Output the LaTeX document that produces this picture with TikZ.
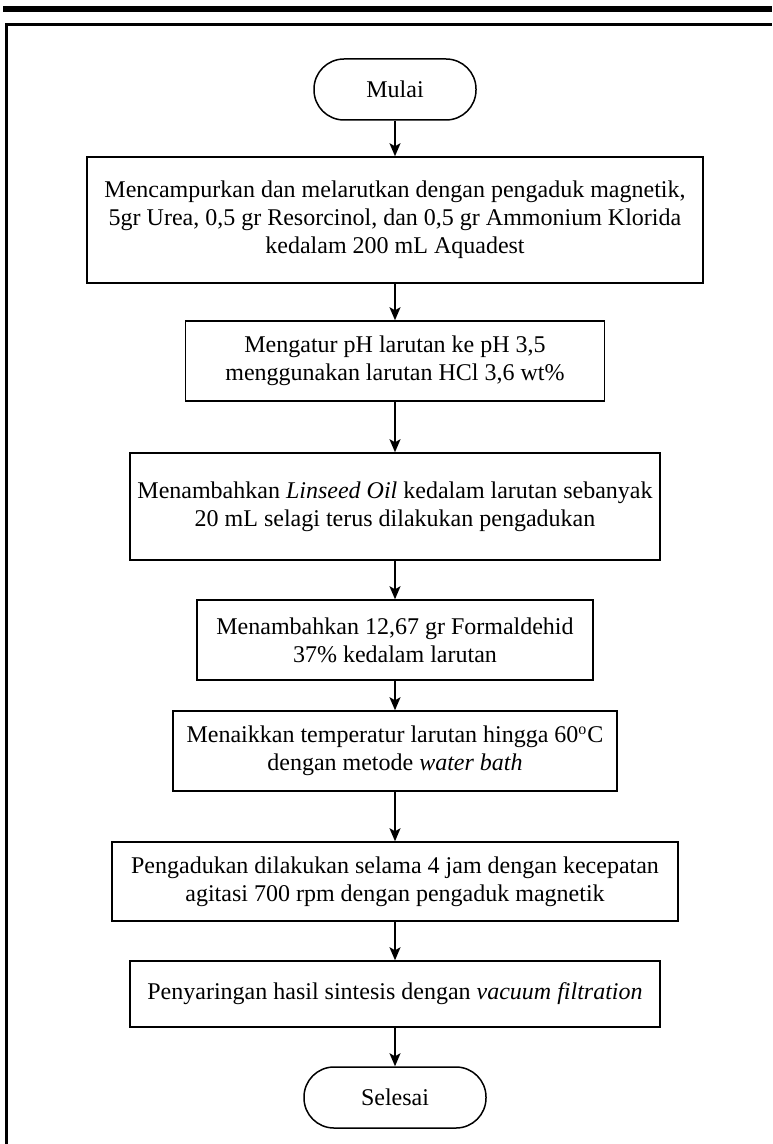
\documentclass[tikz,border=0pt]{standalone}
\usepackage{fontspec}
\setmainfont{Liberation Serif}
\usetikzlibrary{arrows.meta}

\begin{document}
\begin{tikzpicture}[x=0.5pt,y=-0.5pt,
  font=\fontsize{12}{14}\selectfont,
  proses/.style={draw, line width=0.75pt, align=center, inner sep=0pt},
  terminal/.style={draw, line width=0.75pt, rounded corners=15pt, minimum width=#1, minimum height=30.5pt, inner sep=0pt},
  panah/.style={-{Stealth[length=6.5pt,width=5.5pt,inset=1.5pt]}, line width=0.75pt}]
			%%%%% START %%%%%
			
			\useasboundingbox (0,0) rectangle (772,1144);
			
			\fill[black] (3,6) rectangle (772,12.5);
			\draw[line width=1.25pt] (6.5,1144) -- (6.5,24.5) -- (772,24.5);
			
			\node[terminal=81pt] (mulai) at (395,89.5) {Mulai};
			
			\node[proses, minimum width=308pt, minimum height=63pt] (campur) at (395,220)
			{Mencampurkan dan melarutkan dengan pengaduk magnetik,\\
			 5gr Urea, 0,5 gr Resorcinol, dan 0,5 gr Ammonium Klorida\\
			 kedalam 200 mL Aquadest};
			
			\node[proses, minimum width=209.5pt, minimum height=40pt] (atur) at (395,361)
			{Mengatur pH larutan ke pH 3,5\\ menggunakan larutan HCl 3,6 wt\%};
			
			\node[proses, minimum width=265pt, minimum height=53.5pt] (linseed) at (395,506.5)
			{Menambahkan \textit{Linseed Oil} kedalam larutan sebanyak\\
			 20 mL selagi terus dilakukan pengadukan};
			
			\node[proses, minimum width=198pt, minimum height=40pt] (formal) at (395,640)
			{Menambahkan 12,67 gr Formaldehid\\ 37\% kedalam larutan};
			
			\node[proses, minimum width=222pt, minimum height=40pt] (panas) at (395,751)
			{Menaikkan temperatur larutan hingga 60\textsuperscript{o}C\\
			 dengan metode \textit{water bath}};
			
			\node[proses, minimum width=283pt, minimum height=39.5pt] (aduk) at (395,881.5)
			{Pengadukan dilakukan selama 4 jam dengan kecepatan\\
			 agitasi 700 rpm dengan pengaduk magnetik};
			
			\node[proses, minimum width=265pt, minimum height=33pt] (saring) at (395,994)
			{Penyaringan hasil sintesis dengan \textit{vacuum filtration}};
			
			\node[terminal=91pt] (selesai) at (395,1097.5) {Selesai};
			
			\draw[panah] (mulai) -- (campur);
			\draw[panah] (campur) -- (atur);
			\draw[panah] (atur) -- (linseed);
			\draw[panah] (linseed) -- (formal);
			\draw[panah] (formal) -- (panas);
			\draw[panah] (panas) -- (aduk);
			\draw[panah] (aduk) -- (saring);
			\draw[panah] (saring) -- (selesai);
			
			%%%%% END %%%%%
\end{tikzpicture}
\end{document}
